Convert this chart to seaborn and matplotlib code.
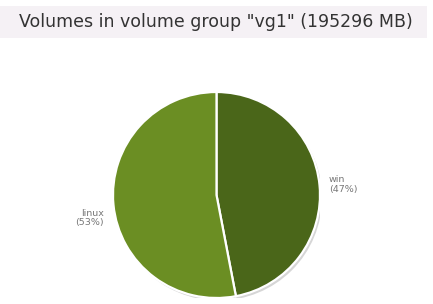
import matplotlib
matplotlib.use("Agg")
import matplotlib.pyplot as plt
import matplotlib.patches as mpatches
import numpy as np
import seaborn as sns

sns.set_theme(style="white")
plt.rcParams['font.family'] = ['DejaVu Sans']

title = 'Volumes in volume group "vg1" (195296 MB)'
labels = ["win", "linux"]
values = [47, 53]
colors = ["#4a6619", "#6b8e23"]

fig = plt.figure(figsize=(4.33, 3.04), dpi=100)
fig.patch.set_facecolor("white")

# title band
band = mpatches.Rectangle((0, 1 - 38 / 304), 427 / 433, 32 / 304,
                          transform=fig.transFigure, facecolor="#f5f1f5",
                          edgecolor="none", zorder=0)
fig.patches.append(band)
fig.text(215.5 / 433, 1 - 22 / 304, title, ha="center", va="center",
         fontsize=12.5, color="#333333")

ax = fig.add_axes([113 / 433, 6 / 304, 207 / 433, 206 / 304])
# shadow
ax.add_patch(mpatches.Circle((0.02, -0.025), 1.0, facecolor="#d6d6d6",
                             edgecolor="none", zorder=0))
wedges, _ = ax.pie(values, colors=colors, startangle=90, counterclock=False,
                   radius=1.0,
                   wedgeprops=dict(edgecolor="white", linewidth=1.6))
ax.set_xlim(-1, 1)
ax.set_ylim(-1, 1)
ax.set_aspect("auto")
ax.axis("off")

total = sum(values)
for w, lab, v in zip(wedges, labels, values):
    mid = np.deg2rad((w.theta1 + w.theta2) / 2)
    x, y = 1.09 * np.cos(mid), 1.09 * np.sin(mid)
    ha = "left" if x > 0 else "right"
    va = "center" if x > 0 else "top"
    ax.text(x, y - (0.0 if x > 0 else 0.03), f"{lab}\n({round(100 * v / total)}%)",
            ha=ha, va=va, fontsize=6.8, color="#777777", linespacing=1.05)

fig.savefig("out.png", dpi=100, facecolor="white")
